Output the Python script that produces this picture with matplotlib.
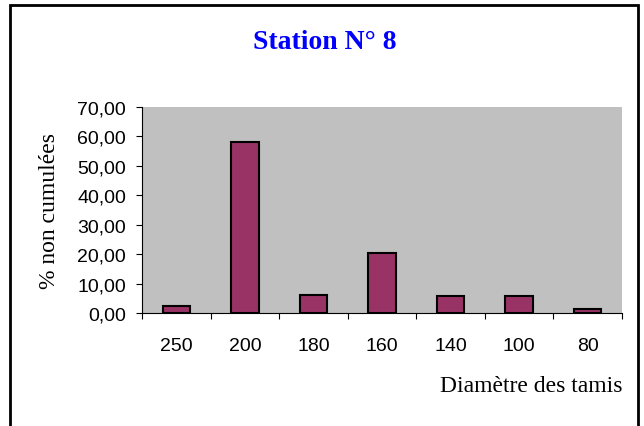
import matplotlib
matplotlib.use("Agg")
import matplotlib.pyplot as plt
from matplotlib.patches import Rectangle

# Granulométrie - station 8
diametres = ["250", "200", "180", "160", "140", "100", "80"]
pourcentages = [2.6, 57.9, 6.3, 20.3, 5.7, 5.7, 1.3]
graduations_y = [0, 10, 20, 30, 40, 50, 60, 70]

fig = plt.figure(figsize=(6.44, 4.27), dpi=100)
ax = fig.add_axes([0.2205, 0.2639, 0.7453, 0.4839])

# cadre noir autour de tout le graphique (le bas sort de l'image)
fig.patches.append(Rectangle((10 / 644, -0.02), 628 / 644, 1 - 6 / 427 + 0.02,
                             transform=fig.transFigure, fill=False,
                             edgecolor="black", linewidth=2))

x = list(range(len(diametres)))
ax.bar(x, pourcentages, width=0.4, color="#993366", edgecolor="black", linewidth=1.5, zorder=3)

ax.set_facecolor("#C0C0C0")
ax.set_xlim(-0.5, len(diametres) - 0.5)
ax.set_ylim(0, 70)

for s in ["top", "right"]:
    ax.spines[s].set_visible(False)
for s in ["left", "bottom"]:
    ax.spines[s].set_linewidth(0.8)

ax.set_yticks(graduations_y)
ax.set_yticklabels([f"{v:.2f}".replace(".", ",") for v in graduations_y],
                   fontfamily="Liberation Sans", fontsize=14)
ax.set_xticks(x)
ax.set_xticklabels(diametres, fontfamily="Liberation Sans", fontsize=14)
ax.tick_params(axis="x", which="major", length=0, pad=17)
ax.set_xticks([i - 0.5 for i in range(len(diametres) + 1)], minor=True)
ax.tick_params(axis="x", which="minor", length=4, width=0.8, direction="out")
ax.tick_params(axis="y", length=4, width=0.8, direction="out", pad=7.5)

fig.text(50 / 644, 1 - 211 / 427, "% non cumulées", rotation=90, ha="center", va="center",
         fontfamily="Liberation Serif", fontsize=17)
fig.text(622 / 644, 1 - 392 / 427, "Diamètre des tamis", ha="right", va="baseline",
         fontfamily="Liberation Serif", fontsize=17)
fig.text(325 / 644, 1 - 49 / 427, "Station N° 8", ha="center", va="baseline",
         fontfamily="Liberation Serif", fontweight="bold", fontsize=20, color="#0000FF")

fig.savefig("out.png", dpi=100)
